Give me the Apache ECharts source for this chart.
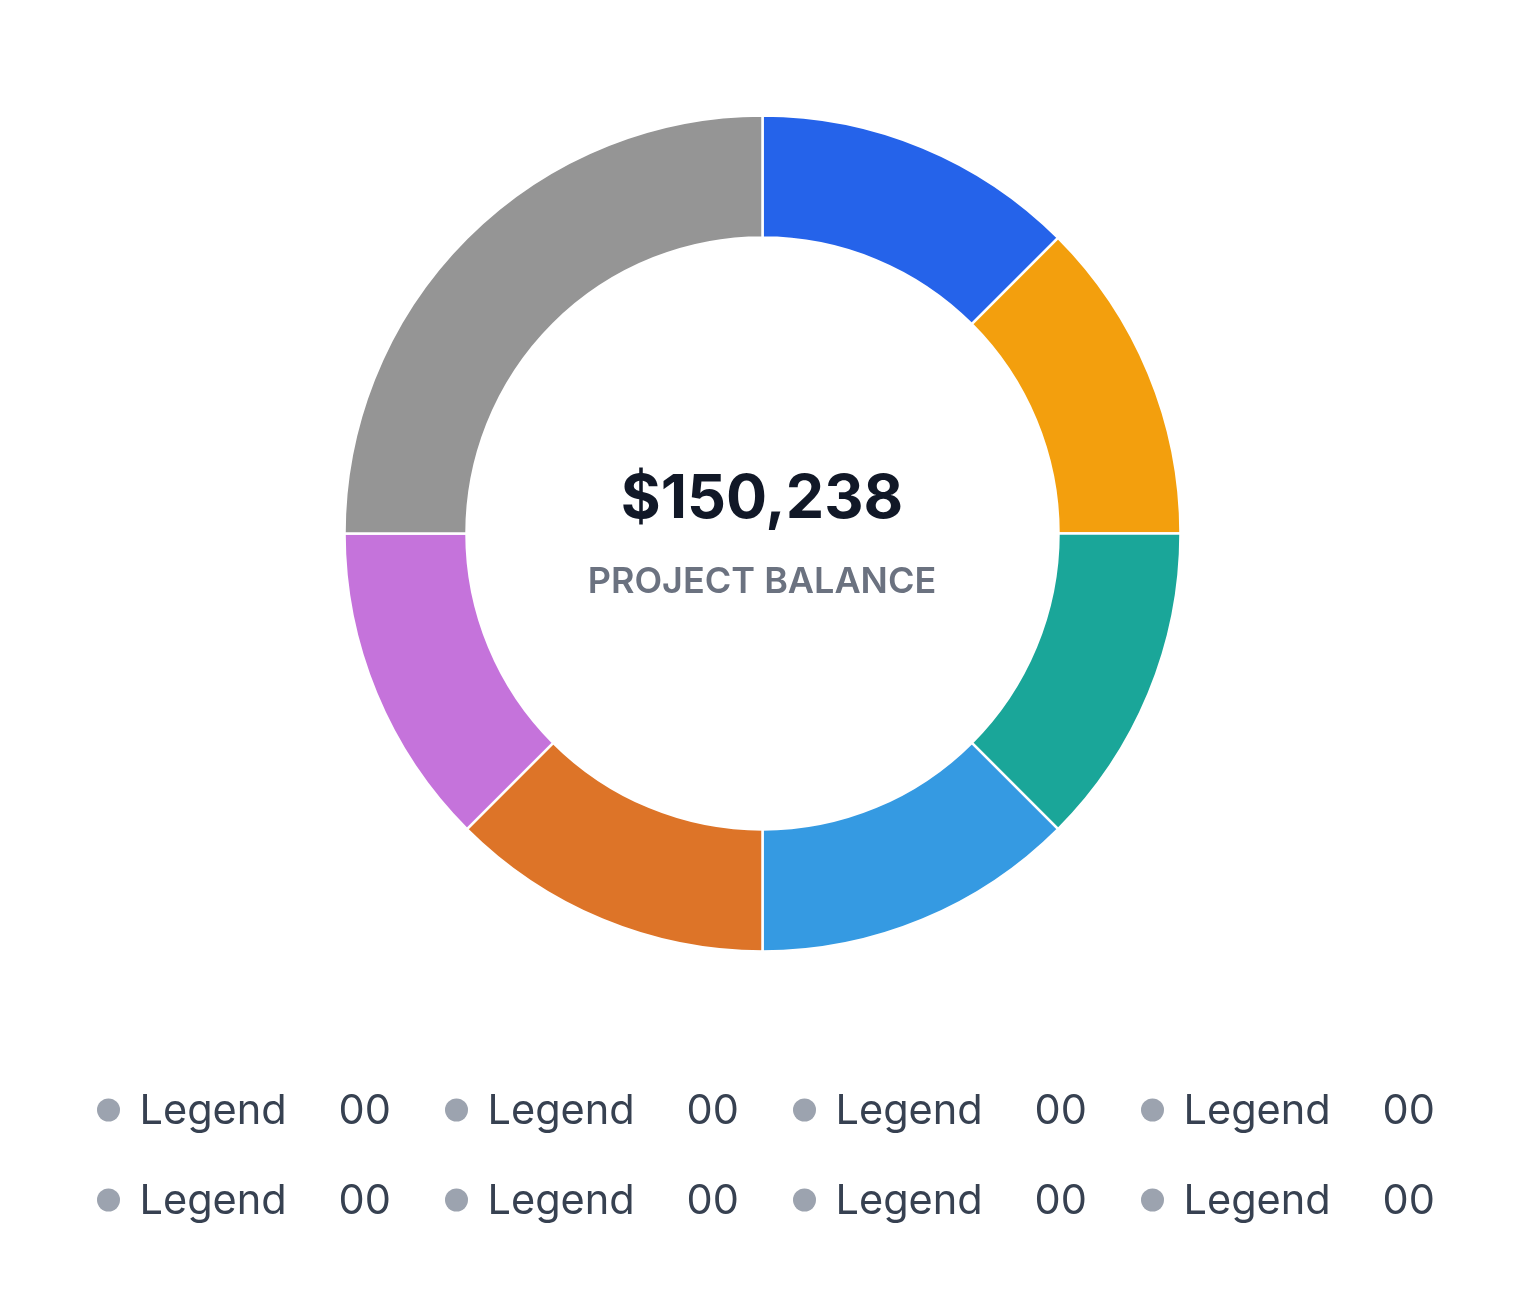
<!DOCTYPE html>
<html><head><meta charset="utf-8">
<script src="https://cdn.jsdelivr.net/npm/echarts@6/dist/echarts.min.js"></script>
<style>html,body{margin:0;padding:0;background:#fff}#c{width:1524px;height:1293px}</style>
</head><body><div id="c"></div>
<script>
const sliceNames = ['A','B','C','D','E','F','G'];
const sliceValues = [1,1,1,1,1,1,2];
const sliceColors = ['#2563EA','#F39F0D','#1AA699','#359AE2','#DD7428','#C573DB','#959595'];
const centerValue = '$150,238';
const centerLabel = 'PROJECT BALANCE';
const legendLabels = ['Legend','Legend','Legend','Legend','Legend','Legend','Legend','Legend'];
const legendCounts = ['00','00','00','00','00','00','00','00'];

const chart = echarts.init(document.getElementById('c'), null, {renderer:'canvas'});
const FONT = 'Inter, "Noto Sans", sans-serif';
const graphics = [];
legendLabels.forEach((lab, i) => {
  const col = i % 4, row = Math.floor(i / 4);
  const x0 = 108.5 + col * 348, y0 = 1110 + row * 90;
  graphics.push({type:'circle', shape:{cx:x0, cy:y0, r:11.5}, style:{fill:'#9CA3AF'}});
  graphics.push({type:'text', x:x0 + 31, y:y0 + 2, style:{text:lab, font:'400 41.5px ' + FONT, fill:'#374151', textVerticalAlign:'middle', verticalAlign:'middle'}});
  graphics.push({type:'text', x:x0 + 230, y:y0 + 2, style:{text:legendCounts[i], font:'400 41.5px ' + FONT, fill:'#374151', textVerticalAlign:'middle', verticalAlign:'middle'}});
});
graphics.push({type:'text', x:762, y:500, style:{text:centerValue, font:'700 61px ' + FONT, fill:'#111827', align:'center', verticalAlign:'middle', textAlign:'center', textVerticalAlign:'middle'}});
graphics.push({type:'text', x:762, y:582, style:{text:centerLabel, font:'600 36px ' + FONT, fill:'#6B7280', align:'center', verticalAlign:'middle', textAlign:'center', textVerticalAlign:'middle'}});

chart.setOption({
  animation:false,
  series:[{
    type:'pie',
    center:[762.5, 533.5],
    radius:[296, 418],
    startAngle:90,
    clockwise:true,
    label:{show:false},
    labelLine:{show:false},
    emphasis:{disabled:true},
    itemStyle:{borderColor:'#fff', borderWidth:2.5},
    data: sliceNames.map((n,i)=>({name:n, value:sliceValues[i], itemStyle:{color:sliceColors[i]}}))
  }],
  graphic: graphics
});
</script></body></html>
